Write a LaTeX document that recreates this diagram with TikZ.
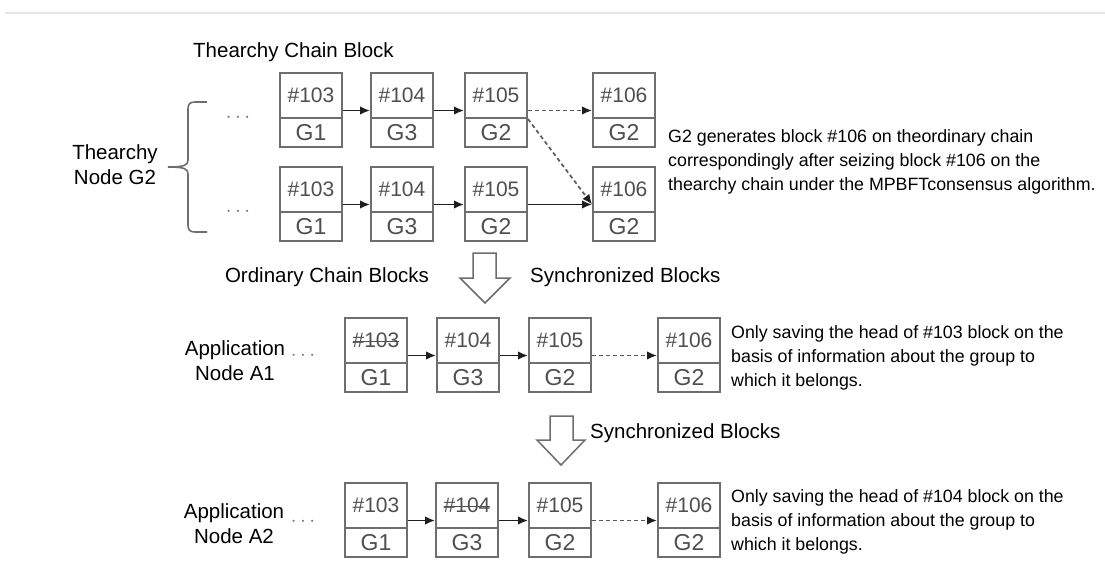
\documentclass[tikz,border=0pt]{standalone}
\usepackage{fontspec}
\setmainfont{Liberation Sans}
\usetikzlibrary{arrows.meta}
\definecolor{boxgray}{HTML}{6E6E6E}
\definecolor{txtgray}{HTML}{4F4F4F}
\definecolor{arrowblack}{HTML}{1E1E1E}
\definecolor{dashgray}{HTML}{5A5A5A}
\definecolor{dotgray}{HTML}{777777}
\definecolor{lineshade}{HTML}{E6E6E6}
\tikzset{
  up/.style={draw=boxgray, line width=1.9pt, minimum width=62pt, minimum height=45pt, inner sep=0pt, text=txtgray, font=\fontsize{21}{24}\selectfont},
  lo/.style={draw=boxgray, line width=1.9pt, minimum width=62pt, minimum height=29pt, inner sep=0pt, text=txtgray, font=\fontsize{23}{26}\selectfont},
  link/.style={-{Latex[length=10pt,width=8.5pt,color=arrowblack]}, line width=1.7pt, draw=arrowblack},
  dlink/.style={link, draw=dashgray, dash pattern=on 4pt off 3pt},
  lbl/.style={font=\fontsize{20.5}{25}\selectfont, text=black, inner sep=0pt},
  note/.style={font=\fontsize{17.8}{24}\selectfont, align=left, anchor=north west, inner sep=0pt, text=black},
  dotsty/.style={text=dotgray, font=\fontsize{20}{24}\selectfont, inner sep=0pt},
  hollow/.style={draw=boxgray, line width=1.5pt, fill=white, line join=miter},
  bracesty/.style={draw=boxgray, line width=1.6pt},
  strikeline/.style={draw=txtgray, line width=1.4pt},
}
\newcommand\chainblk[5]{%
  \node[up] (#1u) at ({#2+31},{#3+22.5}) {#4};
  \node[lo] (#1l) at ({#2+31},{#3+59.5}) {#5};
}
\begin{document}
\begin{tikzpicture}[x=1pt,y=-1pt]
\useasboundingbox (0,0) rectangle (1105,562);
\fill[white] (0,0) rectangle (1105,562);
\draw[lineshade, line width=1.5pt] (5,13) -- (1105,13);

% title
\node[lbl, anchor=west] (title) at (193,52) {Thearchy Chain Block};

% thearchy rows
\chainblk{ta}{280}{73}{\#103}{G1}
\chainblk{tb}{371}{73}{\#104}{G3}
\chainblk{tc}{465}{73}{\#105}{G2}
\chainblk{td}{593}{73}{\#106}{G2}
\chainblk{sa}{280}{167}{\#103}{G1}
\chainblk{sb}{371}{167}{\#104}{G3}
\chainblk{sc}{465}{167}{\#105}{G2}
\chainblk{sd}{593}{167}{\#106}{G2}

\draw[link] ([yshift=-15pt]tau.east) -- ([yshift=-15pt]tbu.west);
\draw[link] ([yshift=-15pt]tbu.east) -- ([yshift=-15pt]tcu.west);
\draw[dlink] ([yshift=-15pt]tcu.east) -- ([yshift=-15pt]tdu.west);
\draw[dlink] (tcu.south east) -- ([yshift=-15pt]sdu.west);
\draw[link] ([yshift=-15pt]sau.east) -- ([yshift=-15pt]sbu.west);
\draw[link] ([yshift=-15pt]sbu.east) -- ([yshift=-15pt]scu.west);
\draw[link] ([yshift=-15pt]scu.east) -- ([yshift=-15pt]sdu.west);

\node[dotsty] (dt1) at (238,118) {$\cdots$};
\node[dotsty] (dt2) at (238,212) {$\cdots$};

% brace
\draw[bracesty] (207,102) -- (195,102) .. controls (190,102) and (188,104) .. (188,109) -- (188,160) .. controls (188,165) and (185,167) .. (168,167) .. controls (185,167) and (188,169) .. (188,174) -- (188,225) .. controls (188,230) and (190,232) .. (195,232) -- (207,232);
\node[lbl, align=center] (tnode) at (115,165) {Thearchy\\Node G2};

\node[note] (tnote) at (668,129) {G2 generates block \#106 on theordinary chain\\correspondingly after seizing block \#106 on the\\thearchy chain under the MPBFTconsensus algorithm.};

% first hollow arrow
\draw[hollow] (473,253) -- (496,253) -- (496,278) -- (510,278) -- (485,303) -- (460,278) -- (473,278) -- cycle;
\node[lbl] (ocb) at (327,277) {Ordinary Chain Blocks};
\node[lbl, anchor=west] (sync1) at (530,277) {Synchronized Blocks};

% A1
\node[lbl, align=center] (a1lbl) at (235,361) {Application\\Node A1};
\node[dotsty] (dt3) at (303,356) {$\cdots$};
\chainblk{aa}{345}{318}{\#103}{G1}
\chainblk{ab}{437}{318}{\#104}{G3}
\chainblk{ac}{529}{318}{\#105}{G2}
\chainblk{ad}{658}{318}{\#106}{G2}
\draw[strikeline] ([xshift=-23pt,yshift=-1pt]aau.center) -- ([xshift=23pt,yshift=-1pt]aau.center);
\draw[link] ([yshift=-15pt]aau.east) -- ([yshift=-15pt]abu.west);
\draw[link] ([yshift=-15pt]abu.east) -- ([yshift=-15pt]acu.west);
\draw[dlink] ([yshift=-15pt]acu.east) -- ([yshift=-15pt]adu.west);
\node[note] (a1note) at (731,325) {Only saving the head of \#103 block on the\\basis of information about the group to\\which it belongs.};

% second hollow arrow
\draw[hollow] (550,416) -- (573,416) -- (573,440) -- (585,440) -- (561,465) -- (537,440) -- (550,440) -- cycle;
\node[lbl, anchor=west] (sync2) at (590,433) {Synchronized Blocks};

% A2
\node[lbl, align=center] (a2lbl) at (234,524) {Application\\Node A2};
\node[dotsty] (dt4) at (303,522) {$\cdots$};
\chainblk{ba}{345}{483}{\#103}{G1}
\chainblk{bb}{436}{483}{\#104}{G3}
\chainblk{bc}{529}{483}{\#105}{G2}
\chainblk{bd}{658}{483}{\#106}{G2}
\draw[strikeline] ([xshift=-23pt,yshift=-1pt]bbu.center) -- ([xshift=23pt,yshift=-1pt]bbu.center);
\draw[link] ([yshift=-15pt]bau.east) -- ([yshift=-15pt]bbu.west);
\draw[link] ([yshift=-15pt]bbu.east) -- ([yshift=-15pt]bcu.west);
\draw[dlink] ([yshift=-15pt]bcu.east) -- ([yshift=-15pt]bdu.west);
\node[note] (a2note) at (731,489) {Only saving the head of \#104 block on the\\basis of information about the group to\\which it belongs.};
\end{tikzpicture}
\end{document}
